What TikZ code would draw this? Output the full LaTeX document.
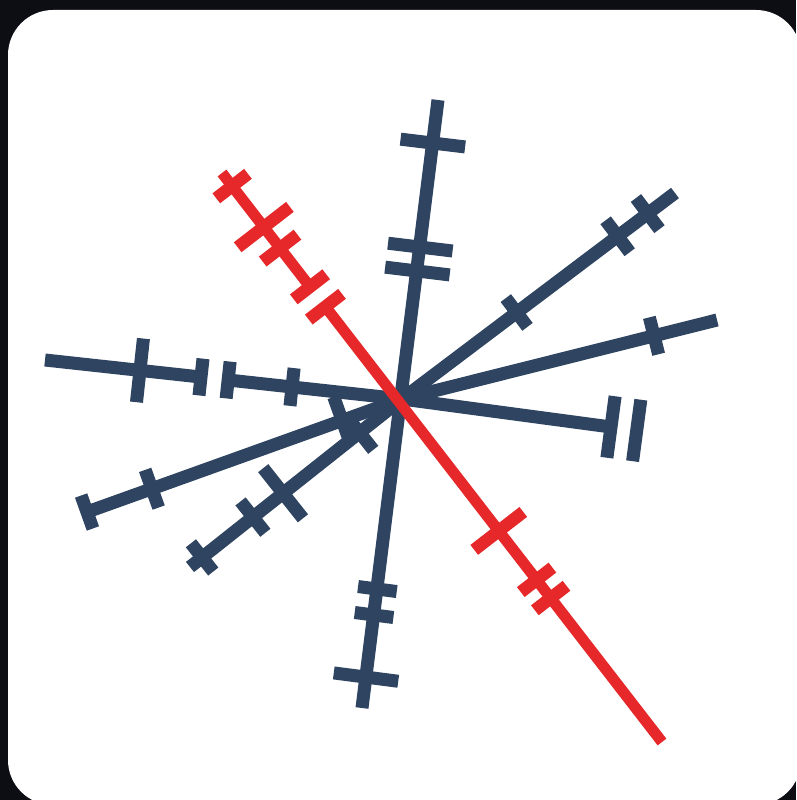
\documentclass[tikz,border=0pt]{standalone}
\usetikzlibrary{calc}
\definecolor{navy}{HTML}{2E4460}
\definecolor{flagred}{HTML}{E6282A}
\definecolor{framedark}{HTML}{0D0E14}
% bar across a line: [style]{from}{to}{position}{half length}
\newcommand{\tickat}[5][tickbar]{%
  \draw[#1] ($(#2)!#4!(#3)!#5!90:(#3)$) -- ($(#2)!#4!(#3)!#5!-90:(#3)$);}

\begin{document}
\begin{tikzpicture}[x=1pt,y=-1pt,
  spoke/.style={navy,line width=13pt},
  redspoke/.style={flagred,line width=11pt},
  tickbar/.style={navy,line width=13pt},
  redtick/.style={flagred,line width=12.5pt}
]
\useasboundingbox (0,0) rectangle (796,800);
\clip (0,0) rectangle (796,800);
\fill[framedark] (0,0) rectangle (796,800);
\fill[white,rounded corners=45pt] (8,10) rectangle (801,805);

% hub and ends
\coordinate (hub) at (402,399);
\coordinate (up) at (438,100);
\coordinate (down) at (362,708);
\coordinate (upright) at (675,193);
\coordinate (right) at (717,320);
\coordinate (east) at (611,427);
\coordinate (left) at (45,360);
\coordinate (lowleft) at (87,512);
\coordinate (downleft) at (190,567);
\coordinate (r1) at (222,173);
\coordinate (r2) at (662,742);
% gaps
\coordinate (lgapA) at ($(hub)!0.487!(left)$);
\coordinate (lgapB) at ($(hub)!0.563!(left)$);
\coordinate (rgapA) at ($(r1)!0.2!(r2)$);
\coordinate (rgapB) at ($(r1)!0.235!(r2)$);

\draw[spoke] (up) -- (down);
\foreach \e in {upright,right,east,lowleft,downleft}
  \draw[spoke,shorten <=-5pt] (hub) -- (\e);
\draw[spoke,shorten <=-5pt] (hub) -- (lgapA);
\draw[spoke] (lgapB) -- (left);

\tickat{hub}{up}{0.856}{32.5pt}
\tickat{hub}{up}{0.508}{32.5pt}
\tickat{hub}{up}{0.428}{32.5pt}
\tickat{hub}{down}{0.615}{19.5pt}
\tickat{hub}{down}{0.699}{19.5pt}
\tickat{hub}{down}{0.9}{32.5pt}
\tickat{hub}{upright}{0.42}{18pt}
\tickat{hub}{upright}{0.79}{20pt}
\tickat{hub}{upright}{0.9}{19.5pt}
\tickat{hub}{right}{0.8}{19pt}
\tickat{east}{hub}{0}{31pt}
\tickat{hub}{east}{1.123}{31pt}
\tickat{hub}{left}{0.308}{19pt}
\tickat{hub}{left}{0.487}{18.5pt}
\tickat{hub}{left}{0.563}{18.5pt}
\tickat{hub}{left}{0.734}{32pt}
\tickat{hub}{lowleft}{0.19}{25pt}
\tickat{hub}{lowleft}{0.794}{20pt}
\tickat{lowleft}{hub}{0}{17.5pt}
\tickat{hub}{downleft}{0.2}{22pt}
\tickat{hub}{downleft}{0.561}{32pt}
\tickat{hub}{downleft}{0.703}{20pt}
\tickat{hub}{downleft}{0.943}{18pt}

\draw[redspoke] (r1) -- (rgapA);
\draw[redspoke] (rgapB) -- (r2);
\tickat[redtick]{r1}{r2}{0.023}{20pt}
\tickat[redtick]{r1}{r2}{0.095}{33pt}
\tickat[redtick]{r1}{r2}{0.132}{22pt}
\tickat[redtick]{r1}{r2}{0.2}{20.5pt}
\tickat[redtick]{r1}{r2}{0.235}{21pt}
\tickat[redtick]{r1}{r2}{0.629}{31pt}
\tickat[redtick]{r1}{r2}{0.715}{20pt}
\tickat[redtick]{r1}{r2}{0.747}{20pt}
\end{tikzpicture}
\end{document}
